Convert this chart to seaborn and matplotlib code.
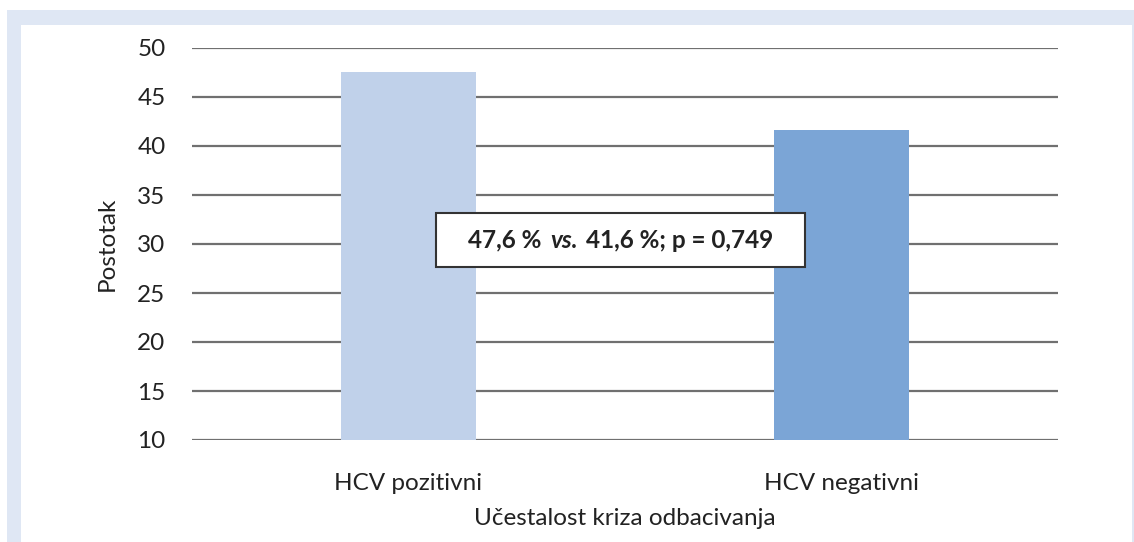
import matplotlib
matplotlib.use("Agg")
import matplotlib.pyplot as plt
import seaborn as sns
import pandas as pd
from matplotlib.patches import Rectangle
from matplotlib.offsetbox import TextArea, HPacker, AnnotationBbox, DrawingArea

categories = ["HCV pozitivni", "HCV negativni"]
values = [47.6, 41.6]
colors = ["#c0d1ea", "#7ba5d6"]
y_ticks = [10, 15, 20, 25, 30, 35, 40, 45, 50]
x_title = "Učestalost kriza odbacivanja"
y_title = "Postotak"
note_parts = ["47,6 %", "vs.", "41,6 %; p = 0,749"]

sns.set_theme(style="white")
plt.rcParams["font.family"] = ["Lato", "DejaVu Sans"]

W, H = 1134, 542
fig = plt.figure(figsize=(W / 100, H / 100), dpi=100)
fig.patch.set_facecolor("white")

# outer light-blue frame
fig.patches.append(Rectangle((7 / W, 0), 1 - 7 / W, 1 - 10 / H, transform=fig.transFigure,
                             facecolor="#dfe7f4", edgecolor="none", zorder=-10))
fig.patches.append(Rectangle((21 / W, 0), (1132 - 21) / W, 1 - 25 / H, transform=fig.transFigure,
                             facecolor="white", edgecolor="none", zorder=-9))

ax = fig.add_axes([192 / W, 1 - 440 / H, (1058 - 192) / W, (440 - 48) / H])
ax.set_facecolor("none")

df = pd.DataFrame({"cat": categories, "val": values})
sns.barplot(data=df, x="cat", y="val", hue="cat", palette=colors, legend=False,
            width=0.31, ax=ax, zorder=3, saturation=1, linewidth=0, edgecolor="none")

fs = 17.5
ax.set_ylim(10, 50)
ax.set_yticks(y_ticks)
ax.set_yticklabels([str(t) for t in y_ticks], fontsize=fs, color="#222222")
ax.tick_params(axis="x", labelsize=fs, labelcolor="#222222", pad=24, length=0)
ax.tick_params(axis="y", length=0, pad=19)
for t in y_ticks:
    ax.axhline(t, color="#707070", linewidth=1.6, zorder=1)
for s in ax.spines.values():
    s.set_visible(False)

ax.set_xlabel(x_title, fontsize=fs, color="#222222", labelpad=10)
ax.set_ylabel(y_title, fontsize=fs, color="#222222", labelpad=14)

kw = dict(fontsize=fs, fontweight="bold", color="#222222")
p1 = TextArea(note_parts[0], textprops=kw)
p2 = TextArea(note_parts[1], textprops=dict(kw, fontstyle="italic"))
p3 = TextArea(note_parts[2], textprops=kw)
sp1 = DrawingArea(6, 1)
sp2 = DrawingArea(6, 1)
pack = HPacker(children=[sp1, p1, p2, p3, sp2], sep=6, pad=0, align="baseline")
ab = AnnotationBbox(pack, (0.495, 30.4), xycoords=("axes fraction", "data"),
                    frameon=True, pad=1.1, fontsize=10, zorder=5,
                    bboxprops=dict(edgecolor="#333333", facecolor="white",
                                   linewidth=1.5))
ax.add_artist(ab)

fig.savefig("out.png", dpi=100)
